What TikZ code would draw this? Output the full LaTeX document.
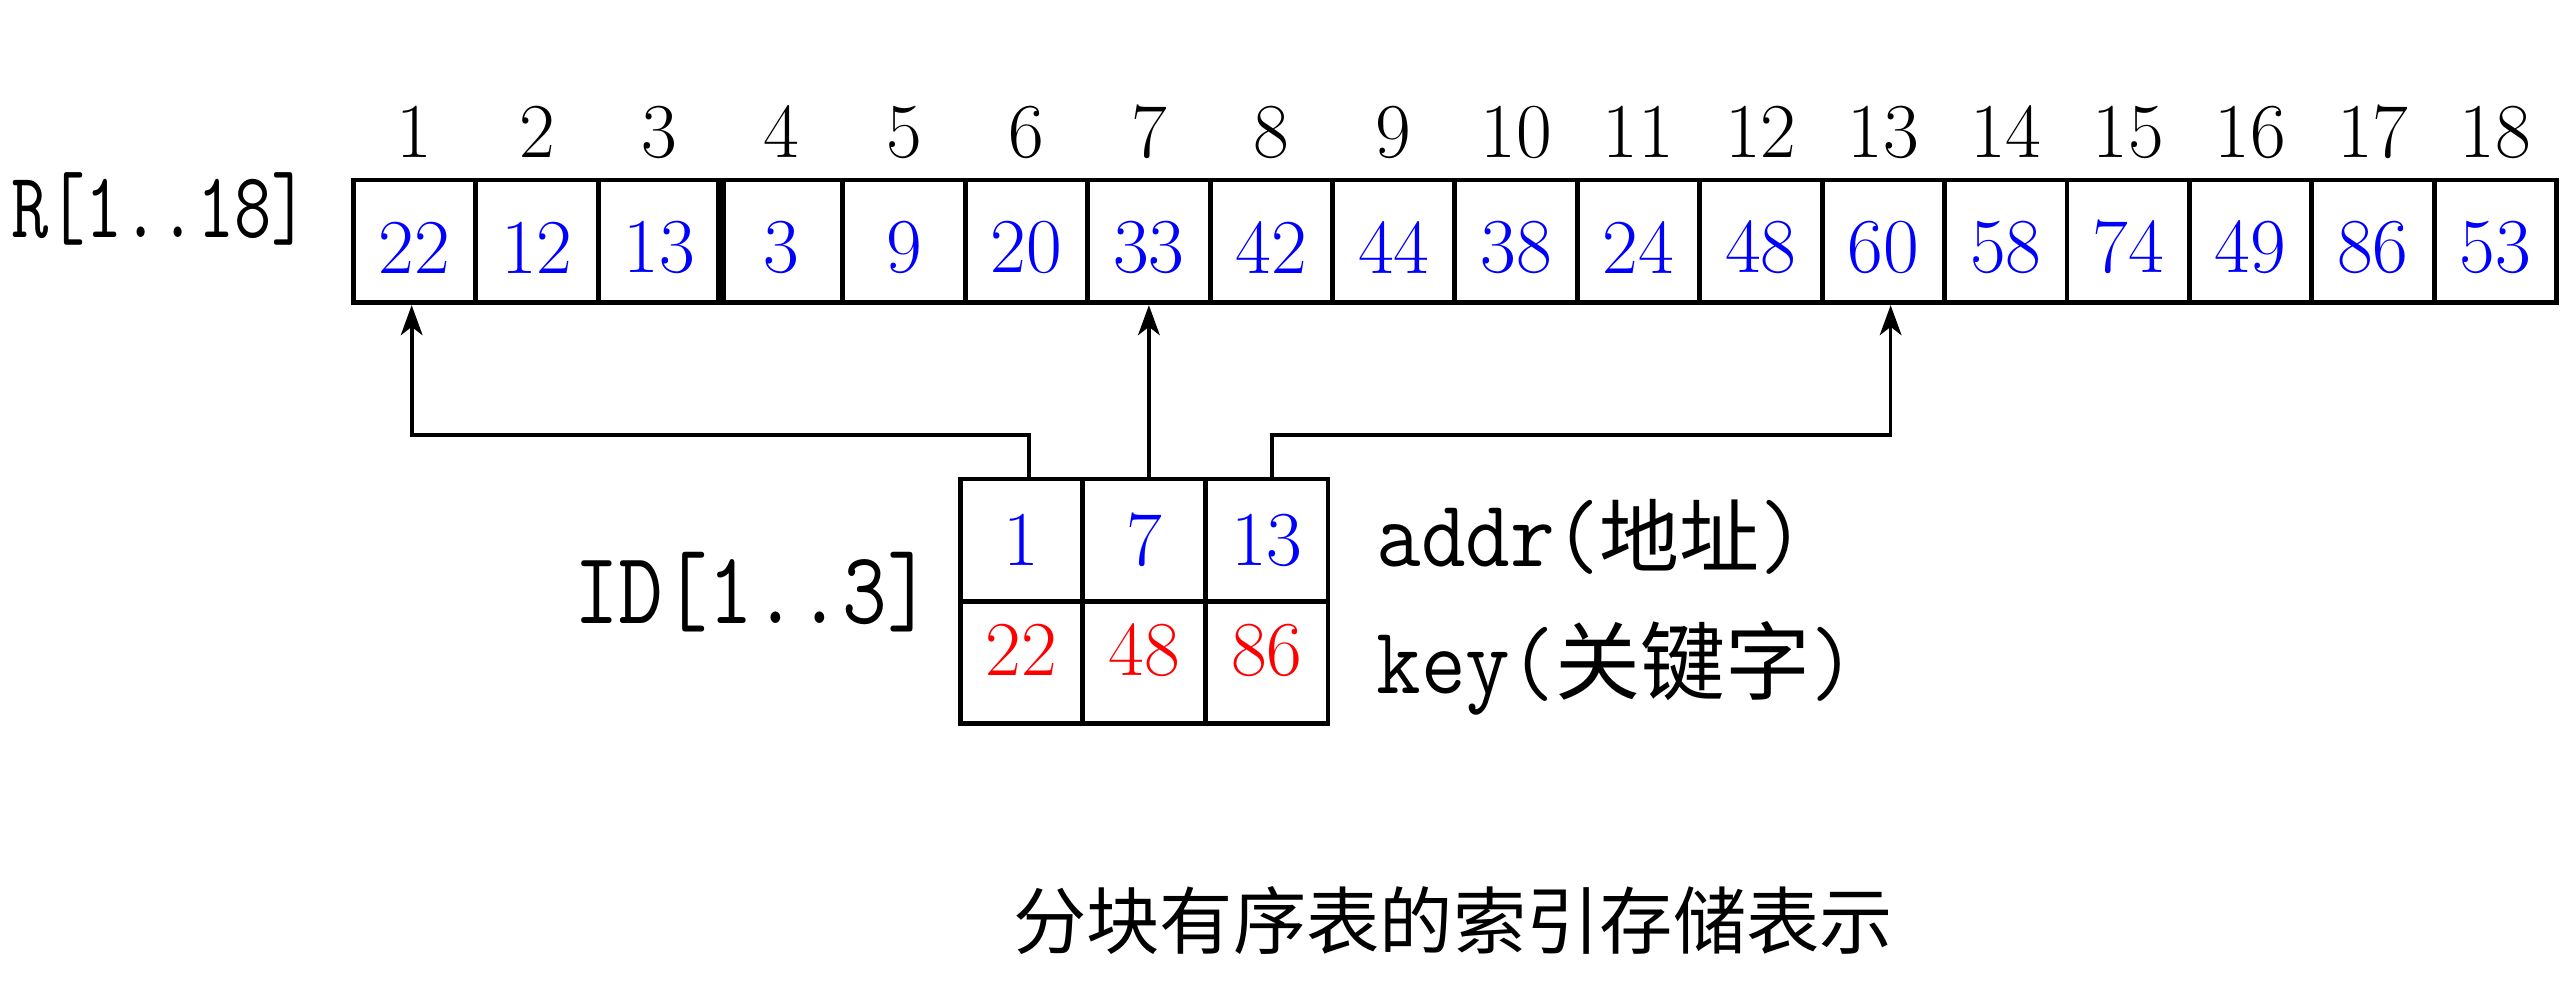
\documentclass[tikz,border=0pt]{standalone}
\usepackage{fontspec}
\usepackage{graphicx}
\newfontfamily\cjk{Noto Sans CJK SC}
\usetikzlibrary{arrows.meta,calc}
\newcommand\mytt[2]{\scalebox{#1}[1.1]{\ttfamily #2}}
\begin{document}
\begin{tikzpicture}[x=0.3pt,y=-0.3pt,
  cell/.style={draw, line width=1.45pt, minimum width=36.72pt, minimum height=36.8pt,
    inner sep=0pt, font=\fontsize{23.3}{28}\selectfont},
  rval/.style={cell, text=blue, text height=19.2pt},
  addrv/.style={cell, text=blue},
  keyv/.style={cell, text=red, text height=15pt, text depth=7.2pt},
  idx/.style={inner sep=0pt, font=\fontsize{23.3}{28}\selectfont},
  arr/.style={line width=1.1pt, -{Stealth[length=9pt,width=6.5pt,inset=2.5pt]}},
  lbl/.style={inner sep=0pt}
]
\useasboundingbox (0,0) rectangle (2560,1006);
% R array
\foreach \v [count=\i] in {22,12,13,3,9,20,33,42,44,38,24,48,60,58,74,49,86,53}{
  \node[rval] (r\i) at ({353.3+(\i-0.5)*122.4},241.4) {\v};
  \node[idx] (n\i) at ({353.3+(\i-0.5)*122.4},132) {\i};
}
\draw[line width=3pt] ($(r3.north east)!0.5!(r4.north west)$) -- ($(r3.south east)!0.5!(r4.south west)$);
% ID table
\foreach \a/\k [count=\j] in {1/22,7/48,13/86}{
  \node[addrv] (i\j) at ({960+(\j-0.5)*122.7},540.3) {\a};
  \node[keyv] (k\j) at ({960+(\j-0.5)*122.7},662.4) {\k};
}
% labels
\node[lbl, anchor=base] (rlab) at (160,237) {\fontsize{25.5}{30}\selectfont\mytt{0.85}{R[1..18]}};
\node[lbl, anchor=base] (idlab) at (753,623) {\fontsize{28}{34}\selectfont\mytt{0.93}{ID[1..3]}};
\node[lbl, anchor=base west] (addr) at (1376,566) {\fontsize{26}{30}\selectfont\mytt{1}{addr(}{\fontsize{24}{28}\selectfont\cjk 地址}\mytt{1}{)}};
\node[lbl, anchor=base west] (key) at (1376,693) {\fontsize{26}{30}\selectfont\mytt{1}{key(}{\fontsize{25.5}{28}\selectfont\cjk 关键字}\mytt{1}{)}};
\node[lbl] (cap) at (1453,921) {\fontsize{22}{26}\selectfont\cjk 分块有序表的索引存储表示};
% connectors
\coordinate (bus) at (0,435);
\coordinate (a1) at ([xshift=2.3pt]i1.north);
\coordinate (b1) at ([xshift=-0.85pt]r1.south);
\coordinate (a3) at ([xshift=1.5pt]i3.north);
\coordinate (b3) at ([xshift=2.2pt]r13.south);
\draw[arr] (a1) |- (bus -| b1) -- (b1);
\draw[arr] (r7.south |- i2.north) -- (r7.south);
\draw[arr] (a3) |- (bus -| b3) -- (b3);
\end{tikzpicture}
\end{document}
